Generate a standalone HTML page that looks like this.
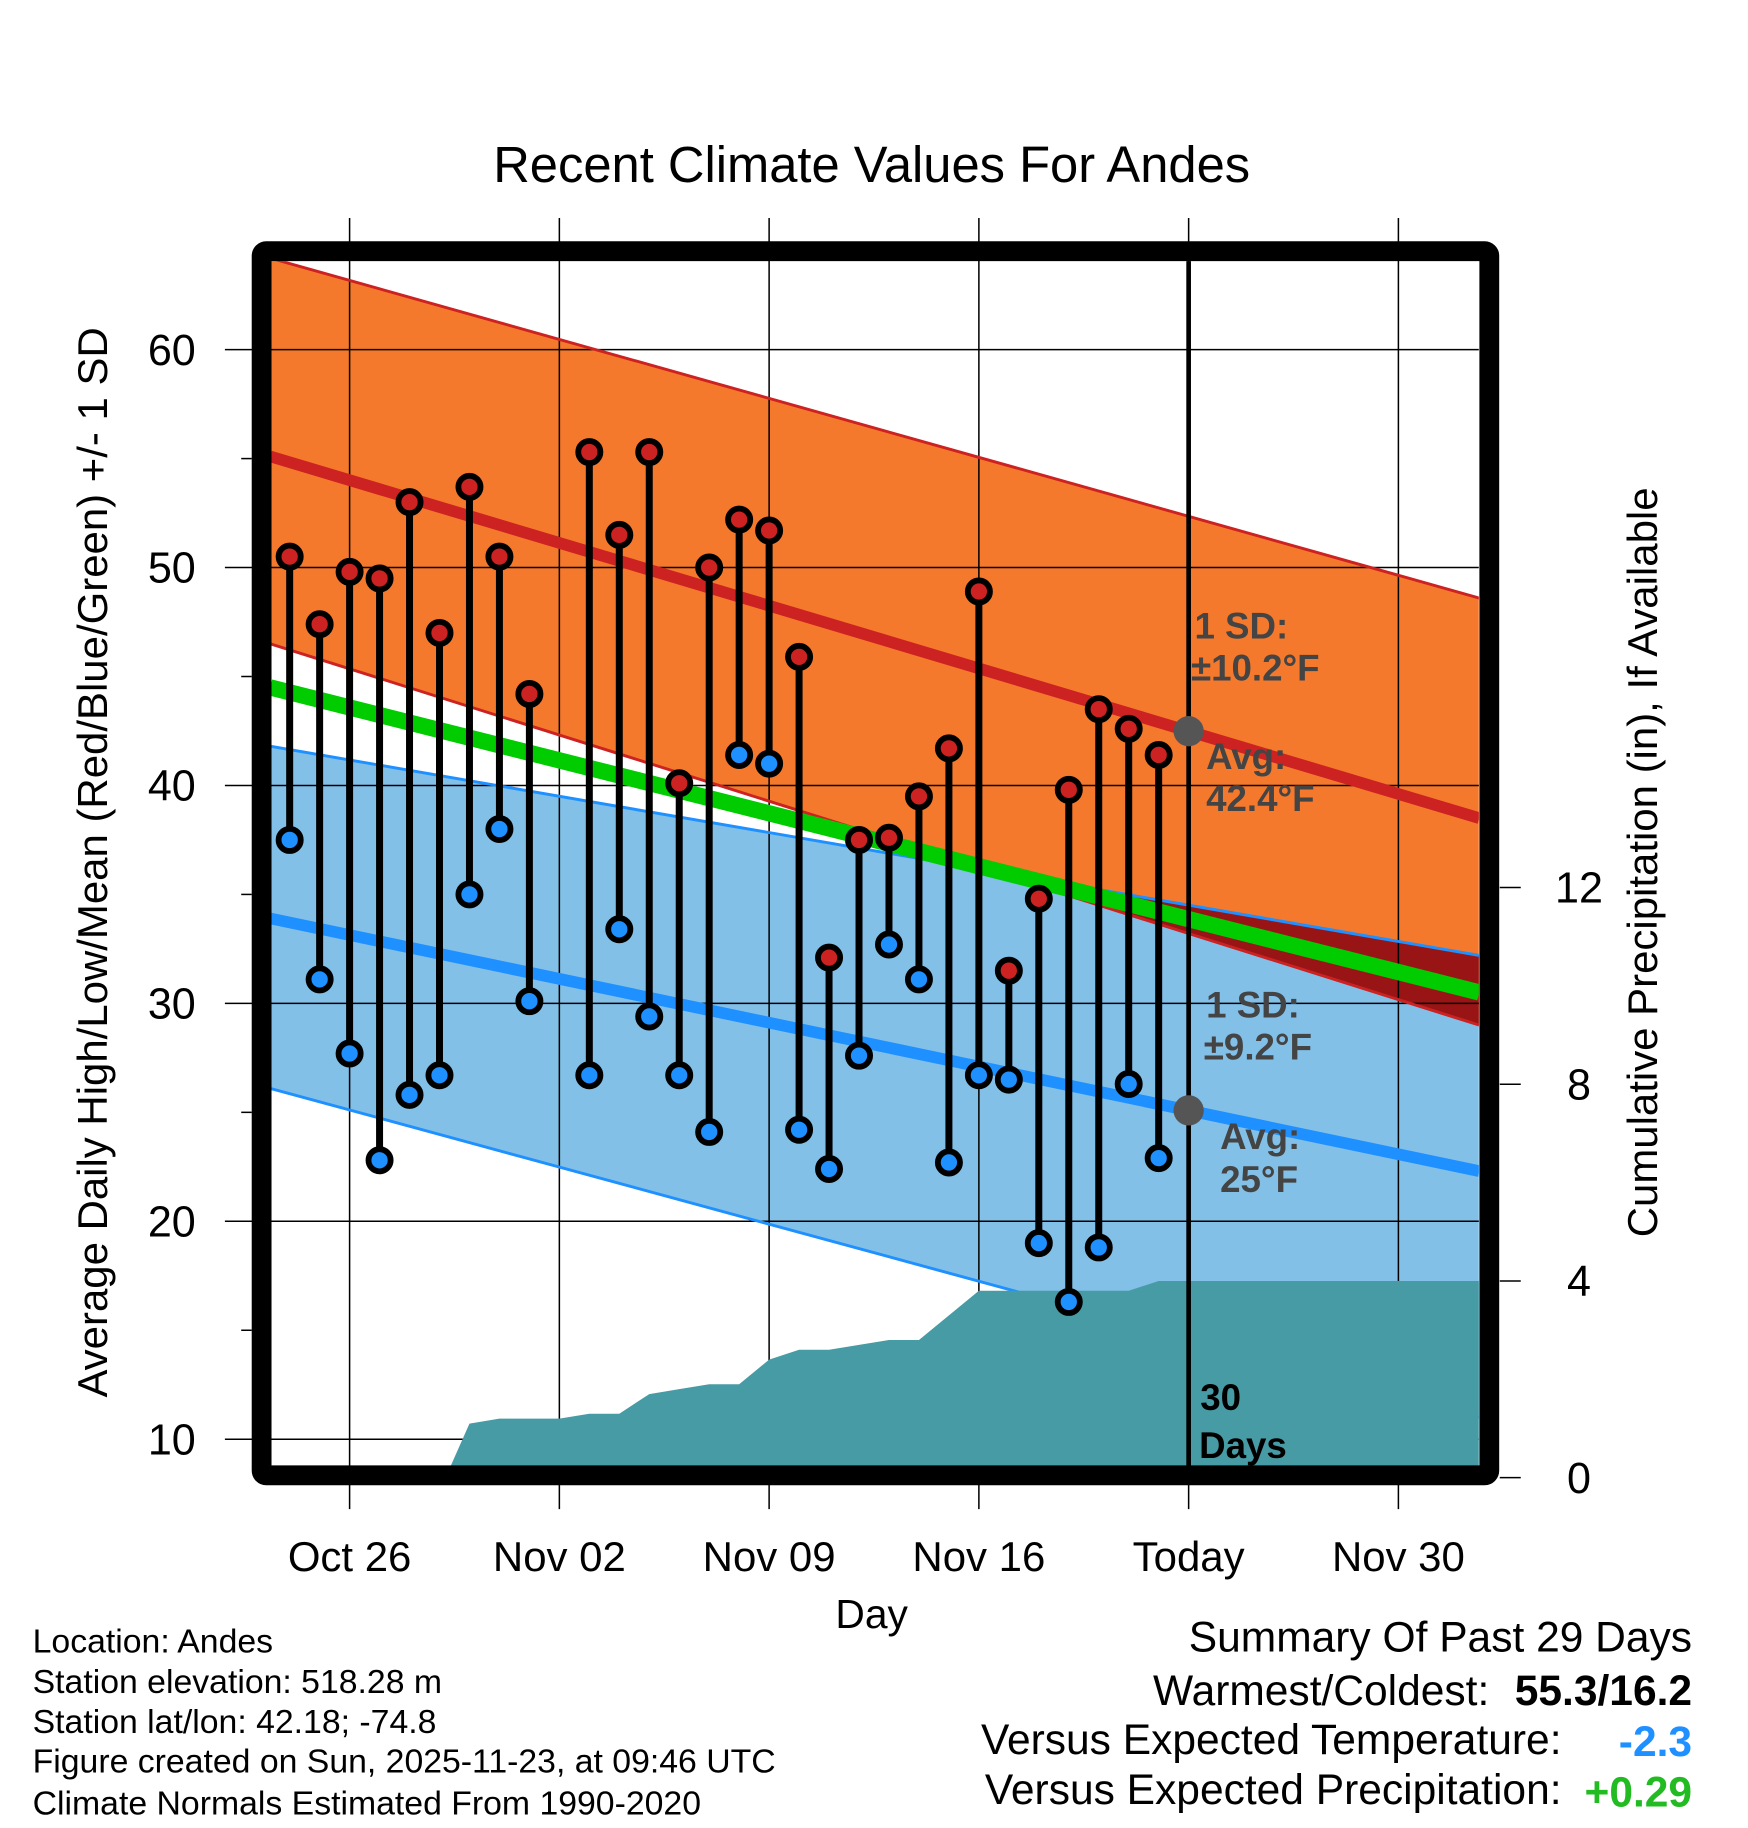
<!DOCTYPE html>
<html><head><meta charset="utf-8"><style>
body{margin:0;background:#fff}
svg{display:block;font-family:"Liberation Sans",sans-serif}
</style></head><body>
<svg id="chart" width="1748" height="1828" viewBox="0 0 1500 1568.6" xmlns="http://www.w3.org/2000/svg">
<text x="748" y="156" font-size="43.5" text-anchor="middle">Recent Climate Values For Andes</text>
<g id="bands"></g>
<g id="grid"></g>
<g id="normals"></g>
<g id="precip"></g>
<g id="marks"></g>
<g id="annot"></g>
<text transform="translate(92,740) rotate(-90)" font-size="36" text-anchor="middle">Average Daily High/Low/Mean (Red/Blue/Green) +/- 1 SD</text>
<text transform="translate(1422,740) rotate(-90)" font-size="36" text-anchor="middle">Cumulative Precipitation (in), If Available</text>
<text x="748" y="1397" font-size="35" text-anchor="middle">Day</text>
<g font-size="29">
<text x="28" y="1418">Location: Andes</text>
<text x="28" y="1453">Station elevation: 518.28 m</text>
<text x="28" y="1487">Station lat/lon: 42.18; -74.8</text>
<text x="28" y="1521">Figure created on Sun, 2025-11-23, at 09:46 UTC</text>
<text x="28" y="1557">Climate Normals Estimated From 1990-2020</text>
</g>
<g font-size="36.5">
<text x="1452" y="1417" text-anchor="end">Summary Of Past 29 Days</text>
<text x="1278" y="1463" text-anchor="end">Warmest/Coldest:</text>
<text x="1452" y="1463" text-anchor="end" font-weight="bold">55.3/16.2</text>
<text x="1340" y="1505" text-anchor="end">Versus Expected Temperature:</text>
<text x="1452" y="1507" text-anchor="end" font-weight="bold" fill="#1e90ff">-2.3</text>
<text x="1340" y="1548" text-anchor="end">Versus Expected Precipitation:</text>
<text x="1452" y="1550" text-anchor="end" font-weight="bold" fill="#22bb22">+0.29</text>
</g>
</svg>
<script>
// Data
const highDays = [-2,-1,0,1,2,3,4,5,6,8,9,10,11,12,13,14,15,16,17,18,19,20,21,22,23,24,25,26,27];
const highs = [50.5,47.4,49.8,49.5,53.0,47.0,53.7,50.5,44.2,55.3,51.5,55.3,40.1,50.0,52.2,51.7,45.9,32.1,37.5,37.6,39.5,41.7,48.9,31.5,34.8,39.8,43.5,42.6,41.4];
const lows = [37.5,31.1,27.7,22.8,25.8,26.7,35.0,38.0,30.1,26.7,33.4,29.4,26.7,24.1,41.4,41.0,24.2,22.4,27.6,32.7,31.1,22.7,26.7,26.5,19.0,16.3,18.8,26.3,22.9];
const precipDays = [3.2,4,5,6,7,8,9,10,11,12,13,14,15,16,17,18,19,20,21,22,23,24,25,26,27,28,37.7];
const precipVals = [0,1.1,1.2,1.2,1.2,1.3,1.3,1.7,1.8,1.9,1.9,2.4,2.6,2.6,2.7,2.8,2.8,3.3,3.8,3.8,3.8,3.8,3.8,3.8,4.0,4.0,4.0];
// normals at left edge / right edge of plot
const normalEnds = [-2.65, 37.7];
const avgHigh = [55.1,38.5];
const highUpper = [64.2,48.6];
const highLower = [46.5,29.0];
const avgLow = [33.9,22.3];
const lowUpper = [41.8,32.2];
const lowLower = [26.1,11.0];
const meanLine = [44.5,30.5];
const xTickDays = [0,7,14,21,28,35];
const xTickLabels = ["Oct 26","Nov 02","Nov 09","Nov 16","Today","Nov 30"];
const yTicks = [10,20,30,40,50,60];
const y2Ticks = [0,4,8,12];

const NS="http://www.w3.org/2000/svg";
const L=232,R=1269,T=224,B=1258;
const xs=d=>300+d*180/7;
const ys=v=>300+(60-v)*18.7;
const yp=p=>1268-p*42.2;
function mk(tag,attrs,parent){const e=document.createElementNS(NS,tag);for(const k in attrs)e.setAttribute(k,attrs[k]);document.getElementById(parent).appendChild(e);return e;}
function band(top,bot){const a=normalEnds;return `${xs(a[0])},${ys(top[0])} ${xs(a[1])},${ys(top[1])} ${xs(a[1])},${ys(bot[1])} ${xs(a[0])},${ys(bot[0])}`;}
function lineY(arr,x){const a=normalEnds;const t=(x-xs(a[0]))/(xs(a[1])-xs(a[0]));return ys(arr[0]+(arr[1]-arr[0])*t);}

const defs=mk('defs',{},'bands');
const cp=document.createElementNS(NS,'clipPath');cp.setAttribute('id','plotclip');defs.appendChild(cp);
const cr=document.createElementNS(NS,'rect');cr.setAttribute('x',L);cr.setAttribute('y',T);cr.setAttribute('width',R-L);cr.setAttribute('height',B-T);cp.appendChild(cr);
document.getElementById('bands').setAttribute('clip-path','url(#plotclip)');
document.getElementById('precip').setAttribute('clip-path','url(#plotclip)');
document.getElementById('normals').setAttribute('clip-path','url(#plotclip)');

let e=mk('polygon',{points:band(lowUpper,lowLower),fill:'#82c0e8'},'bands');

e=mk('polygon',{points:band(highUpper,highLower),fill:'#f5792c'},'bands');

{let xa=xs(normalEnds[0]),xb=xs(normalEnds[1]);
 const f=x=>lineY(lowUpper,x)-lineY(highLower,x);
 const xc=xa+(xb-xa)*f(xa)/(f(xa)-f(xb));
 e=mk('polygon',{points:`${xc},${lineY(lowUpper,xc)} ${xb},${lineY(lowUpper,xb)} ${xb},${lineY(highLower,xb)}`,fill:'#991515'},'bands');
 }

{let pts=`${xs(precipDays[0])},${yp(0)} `;
 precipDays.forEach((d,i)=>pts+=`${xs(d)},${yp(precipVals[i])} `);
 pts+=`${xs(precipDays[precipDays.length-1])},${yp(0)} ${xs(precipDays[precipDays.length-1])},${B+5} ${xs(precipDays[0])},${B+5}`;
 e=mk('polygon',{points:pts,fill:'#479ba4'},'precip');
 }

xTickDays.forEach((d,i)=>{
 e=mk('line',{x1:xs(d),x2:xs(d),y1:187,y2:1295,stroke:'#000','stroke-width':1.3},'grid');
 
 e=mk('text',{x:xs(d),y:1348,'font-size':36,'text-anchor':'middle'},'grid');e.textContent=xTickLabels[i];
 
});
yTicks.forEach(v=>{
 e=mk('line',{x1:193,x2:R,y1:ys(v),y2:ys(v),stroke:'#000','stroke-width':1.3},'grid');
 
 e=mk('text',{x:168,y:ys(v)+13,'font-size':37,'text-anchor':'end'},'grid');e.textContent=v;
 
 if(v+5<64){
 e=mk('line',{x1:207,x2:216,y1:ys(v+5),y2:ys(v+5),stroke:'#000','stroke-width':1.3},'grid');
 }
});
y2Ticks.forEach(p=>{
 e=mk('line',{x1:1287,x2:1305,y1:yp(p),y2:yp(p),stroke:'#000','stroke-width':1.3},'grid');
 
 e=mk('text',{x:1355,y:yp(p)+13,'font-size':37,'text-anchor':'middle'},'grid');e.textContent=p;
 
});

function nline(arr,color,w,name){const a=normalEnds;
 const l=mk('line',{x1:xs(a[0]),x2:xs(a[1]),y1:ys(arr[0]),y2:ys(arr[1]),stroke:color,'stroke-width':w},'normals');
 }
nline(highUpper,'#cc2222',2.5,'high-upper-sd-line');
nline(highLower,'#cc2222',2.5,'high-lower-sd-line');
nline(lowUpper,'#1e90ff',2.5,'low-upper-sd-line');
nline(lowLower,'#1e90ff',2.5,'low-lower-sd-line');
nline(meanLine,'#00cc00',14,'mean-line');
nline(avgHigh,'#cc2222',10,'avg-high-line');
nline(avgLow,'#1e90ff',10,'avg-low-line');

e=mk('line',{x1:xs(28),x2:xs(28),y1:T,y2:B,stroke:'#000','stroke-width':4},'marks');


e=mk('rect',{x:224.5,y:215.5,width:1053.5,height:1050.5,fill:'none',stroke:'#000','stroke-width':17,rx:4},'marks');


highDays.forEach((d,i)=>{
 const x=xs(d);
 const s=mk('line',{x1:x,x2:x,y1:ys(highs[i]),y2:ys(lows[i]),stroke:'#000','stroke-width':6},'marks');
 
});
highDays.forEach((d,i)=>{
 const x=xs(d);
 const h=mk('circle',{cx:x,cy:ys(highs[i]),r:9.5,fill:'#cc2222',stroke:'#000','stroke-width':5},'marks');
 
 const lo=mk('circle',{cx:x,cy:ys(lows[i]),r:9.5,fill:'#1e90ff',stroke:'#000','stroke-width':5},'marks');
 
});

const tx=xs(28);
e=mk('circle',{cx:tx,cy:lineY(avgHigh,tx),r:13,fill:'#555'},'annot');

e=mk('circle',{cx:tx,cy:lineY(avgLow,tx),r:13,fill:'#555'},'annot');

const notes=[["1 SD:",1025,548,'#444'],["±10.2°F",1022,584,'#444'],["Avg:",1035,660,'#444'],["42.4°F",1035,696,'#444'],
 ["1 SD:",1035,873,'#444'],["±9.2°F",1033,909,'#444'],["Avg:",1047,986,'#444'],["25°F",1047,1023,'#444'],["30",1030,1210,'#000'],["Days",1029,1251,'#000']];
notes.forEach(n=>{const t=mk('text',{x:n[1],y:n[2],'font-size':31.5,'font-weight':'bold',fill:n[3]},'annot');t.textContent=n[0];
 });
</script>
</body></html>
